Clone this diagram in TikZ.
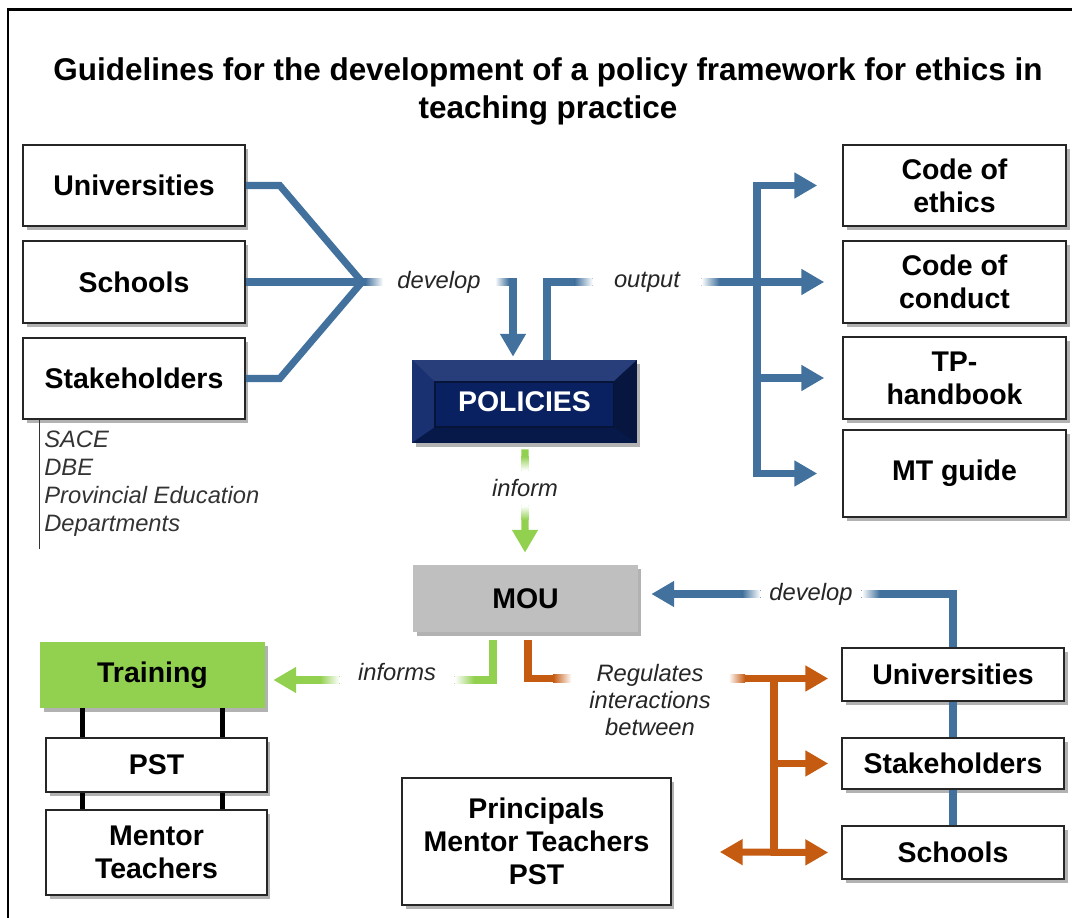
\documentclass[tikz,border=0pt]{standalone}
\usepackage{fontspec}
\setmainfont{Liberation Sans}
\usetikzlibrary{arrows.meta,calc,shadows}

\definecolor{linkblue}{RGB}{65,113,156}
\definecolor{linkorange}{RGB}{197,90,17}
\definecolor{linkgreen}{RGB}{146,208,80}
\definecolor{policynavy}{RGB}{10,36,104}
\definecolor{mougray}{RGB}{191,191,191}

\begin{document}
\begin{tikzpicture}[x=0.02cm, y=-0.02cm, >={Triangle[length=13pt,width=14pt]},
    shadowed/.style={drop shadow={shadow xshift=2pt, shadow yshift=-2.5pt, opacity=0.3, fill=black}},
    box/.style={shadowed, draw=black!85, line width=0.9pt, fill=white, align=center,
        font=\fontsize{16.2}{18.8}\selectfont\bfseries},
    lbl/.style={fill=white, align=center, text=black!85, inner xsep=5pt, inner ysep=1pt,
        font=\fontsize{13.5}{15.6}\selectfont\itshape},
    note/.style={align=left, inner sep=0pt, text=black!80,
        font=\fontsize{13.5}{15.9}\selectfont\itshape},
    link/.style={line width=4pt},
    blueline/.style={link, draw=linkblue},
    bluearrow/.style={blueline, ->},
    greenarrow/.style={link, draw=linkgreen, ->},
    orangeline/.style={link, draw=linkorange},
    orangearrow/.style={orangeline, ->},
    blackline/.style={line width=2.8pt, draw=black}]

    \useasboundingbox (0,0) rectangle (1072,918);

    % Outer frame
    \draw[line width=1.7pt] (8,930) -- (8,10) -- (1090,10);

    % Heading
    \node[font=\fontsize{17.9}{21.6}\selectfont\bfseries, align=center, inner sep=0pt] (title) at (548,91)
        {Guidelines for the development of a policy framework for ethics in\\teaching practice};

    % Parties on the left
    \node[box, minimum width=4.44cm, minimum height=1.62cm] (uniL) at (134,185.5) {Universities};
    \node[box, minimum width=4.44cm, minimum height=1.64cm] (schL) at (134,282) {Schools};
    \node[box, minimum width=4.44cm, minimum height=1.62cm] (stkL) at (134,378.5) {Stakeholders};
    \node[note, anchor=west] (agencies) at (44,484) {SACE\\DBE\\Provincial Education\\Departments};
    \draw[line width=0.6pt, black!80] ($(stkL.south west)+(17,0)$) -- ++(0,129);

    % Outputs on the right
    \node[box, minimum width=4.46cm, minimum height=1.62cm] (ethics) at (954.5,185.5) {Code of\\ethics};
    \node[box, minimum width=4.46cm, minimum height=1.64cm] (conduct) at (954.5,282) {Code of\\conduct};
    \node[box, minimum width=4.46cm, minimum height=1.64cm] (handbook) at (954.5,378) {TP-\\handbook};
    \node[box, minimum width=4.46cm, minimum height=1.74cm] (mtguide) at (954.5,473.5) {MT guide};

    % Bevelled policy block
    \node[shadowed, fill=policynavy, minimum width=4.5cm, minimum height=1.66cm, text=white,
        font=\fontsize{16.2}{18.8}\selectfont\bfseries,
        path picture={
            \coordinate (pnw) at (path picture bounding box.north west);
            \coordinate (pne) at (path picture bounding box.north east);
            \coordinate (pse) at (path picture bounding box.south east);
            \coordinate (psw) at (path picture bounding box.south west);
            \coordinate (inw) at ($(pnw)+(13pt,-12.5pt)$);
            \coordinate (ine) at ($(pne)+(-13.5pt,-12.5pt)$);
            \coordinate (ise) at ($(pse)+(-13.5pt,9pt)$);
            \coordinate (isw) at ($(psw)+(13pt,9pt)$);
            \fill[policynavy!88!white] (pnw) -- (pne) -- (ine) -- (inw) -- cycle;
            \fill[policynavy!94!white] (pnw) -- (inw) -- (isw) -- (psw) -- cycle;
            \fill[policynavy!70!black] (psw) -- (isw) -- (ise) -- (pse) -- cycle;
            \fill[policynavy!60!black] (pne) -- (pse) -- (ise) -- (ine) -- cycle;
            \fill[policynavy!92!black, draw=policynavy!55!black, line width=0.8pt] (inw) rectangle (ise);
        }] (policies) at (524.5,401.5) {POLICIES};

    % Middle blocks
    \node[shadowed, fill=mougray, minimum width=4.5cm, minimum height=1.34cm,
        font=\fontsize{16.2}{18.8}\selectfont\bfseries] (mou) at (525.5,598.5) {MOU};
    \node[shadowed, fill=linkgreen, minimum width=4.5cm, minimum height=1.32cm,
        font=\fontsize{16.2}{18.8}\selectfont\bfseries] (training) at (152.5,675) {Training};
    \node[box, minimum width=4.42cm, minimum height=1.08cm] (pst) at (156.5,765) {PST};
    \node[box, minimum width=4.42cm, minimum height=1.7cm] (mentors) at (156.5,852.5) {Mentor\\Teachers};
    \node[box, minimum width=5.38cm, minimum height=2.54cm] (principals) at (536.5,841.5)
        {Principals\\Mentor Teachers\\PST};

    % Parties on the lower right
    \node[box, minimum width=4.44cm, minimum height=1.06cm] (uniR) at (953,674.5) {Universities};
    \node[box, minimum width=4.44cm, minimum height=1.02cm] (stkR) at (953,763.5) {Stakeholders};
    \node[box, minimum width=4.44cm, minimum height=1.06cm] (schR) at (953,852.5) {Schools};

    % develop: parties -> policies
    \coordinate (jn) at (362,282);
    \draw[blueline] (uniL.east) -- ++(34,0) -- (jn) -- ($(stkL.east)+(34,0)$) -- (stkL.east);
    \draw[bluearrow] (schL.east) -- (jn) -| ($(policies.north)+(-11.5,-3)$);
    \node[lbl, inner xsep=8pt] (devL) at (439,282) {develop};
    \shade[left color=linkblue, right color=white] ($(devL.west)+(-18,-3.53)$) rectangle ($(devL.west)+(0,3.53)$);
    \shade[left color=white, right color=linkblue] ($(devL.east)+(0,-3.53)$) rectangle ($(devL.east)+(14,3.53)$);

    % output: policies -> documents
    \coordinate (tr) at (757,282);
    \draw[bluearrow] ($(policies.north)+(22.5,0)$) |- ($(conduct.west)+(-18,0)$);
    \draw[bluearrow] (tr) |- ($(ethics.west)+(-25,0)$);
    \draw[bluearrow] (tr) |- ($(mtguide.west)+(-25,0)$);
    \draw[bluearrow] (tr |- handbook.west) -- ($(handbook.west)+(-18,0)$);
    \node[lbl, inner xsep=12pt] (outL) at (647,282) {output};
    \shade[left color=linkblue, right color=white] ($(outL.west)+(-18,-3.53)$) rectangle ($(outL.west)+(0,3.53)$);
    \shade[left color=white, right color=linkblue] ($(outL.east)+(0,-3.53)$) rectangle ($(outL.east)+(18,3.53)$);

    % inform: policies -> MOU
    \draw[greenarrow] ($(policies.south)+(0.5,6)$) -- ($(mou.north)+(-0.5,-12)$);
    \node[lbl, inner ysep=5pt] (infL) at (525,488) {inform};
    \shade[top color=linkgreen, bottom color=white] ($(infL.north)+(-3.53,-14)$) rectangle ($(infL.north)+(3.53,0)$);
    \shade[top color=white, bottom color=linkgreen] ($(infL.south)+(-3.53,0)$) rectangle ($(infL.south)+(3.53,14)$);

    % informs: MOU -> training
    \draw[greenarrow] ($(mou.south)+(-32.5,8)$) |- ($(training.east)+(8,5)$);
    \node[lbl, inner xsep=10.5pt, inner ysep=3pt] (infsL) at (397,672) {informs};
    \shade[left color=linkgreen, right color=white] (320,676.47) rectangle (infsL.west |- 0,683.53);
    \shade[left color=white, right color=linkgreen] (infsL.east |- 0,676.47) rectangle (474,683.53);

    % Regulates interactions between
    \coordinate (ot) at (774,678.5);
    \draw[orangearrow] ($(mou.south)+(2.5,8)$) |- ($(uniR.west)+(-13,4)$);
    \draw[orangeline] (ot) -- (ot |- schR.west);
    \draw[orangearrow] (ot |- stkR.west) -- ($(stkR.west)+(-13,0)$);
    \draw[orangeline, <->] ($(principals.east)+(48,10.5)$) -- ($(schR.west)+(-13,0)$);
    \node[lbl, inner xsep=10pt] (regL) at (650,700) {Regulates\\interactions\\between};
    \shade[left color=linkorange, right color=white] (553,674.97) rectangle (regL.west |- 0,682.03);
    \shade[left color=white, right color=linkorange] (regL.east |- 0,674.97) rectangle (745,682.03);

    % develop: lower-right parties -> MOU
    \draw[bluearrow] (uniR.north) |- ($(mou.east)+(13,-4.5)$);
    \draw[blueline] (uniR.south) -- (stkR.north);
    \draw[blueline] (stkR.south) -- (schR.north);
    \node[lbl] (devR) at (811,594) {develop};
    \shade[left color=linkblue, right color=white] ($(devR.west)+(-18,-3.53)$) rectangle ($(devR.west)+(0,3.53)$);
    \shade[left color=white, right color=linkblue] ($(devR.east)+(0,-3.53)$) rectangle ($(devR.east)+(18,3.53)$);

    % Training ties
    \coordinate (ta) at ($(pst.north west)+(37,0)$);
    \coordinate (tb) at ($(pst.north east)+(-45,0)$);
    \coordinate (tc) at ($(pst.south west)+(37,0)$);
    \coordinate (td) at ($(pst.south east)+(-45,0)$);
    \draw[blackline] (ta) -- (ta |- training.south);
    \draw[blackline] (tb) -- (tb |- training.south);
    \draw[blackline] (tc) -- (tc |- mentors.north);
    \draw[blackline] (td) -- (td |- mentors.north);
\end{tikzpicture}
\end{document}
